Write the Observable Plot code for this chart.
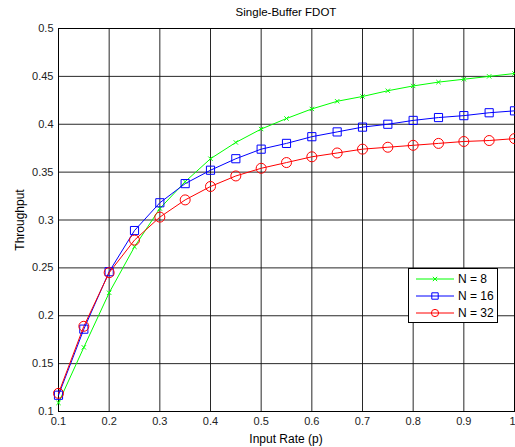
<!DOCTYPE html>
<html><head><meta charset="utf-8">
<script src="https://cdn.jsdelivr.net/npm/d3@7"></script>
<script src="https://cdn.jsdelivr.net/npm/@observablehq/plot@0.6"></script>
<style>
body{margin:0;background:#fff;}
#chart{position:relative;width:515px;height:447px;font-family:"Liberation Sans",Arial,sans-serif;color:#000;overflow:hidden;}
#chart svg{display:block;}
.lbl{position:absolute;white-space:nowrap;font-size:12px;line-height:1;}
#title{left:286px;top:13px;transform:translate(-50%,-50%);font-size:11.5px;}
#xlabel{left:286px;top:439px;transform:translate(-50%,-50%);}
#ylabel{left:20px;top:220px;transform:translate(-50%,-50%) rotate(-90deg);}
#legend{position:absolute;left:408px;top:268px;width:90px;height:55px;border:1px solid #000;background:#fff;box-sizing:border-box;}
</style></head><body>
<div id="chart"></div>
<script>
const chartTitle = "Single-Buffer FDOT";
const xLabel = "Input Rate (p)";
const yLabel = "Throughput";
const inputRate = [0.1,0.15,0.2,0.25,0.3,0.35,0.4,0.45,0.5,0.55,0.6,0.65,0.7,0.75,0.8,0.85,0.9,0.95,1.0];
const n8  = [0.109,0.167,0.224,0.272,0.312,0.340,0.364,0.381,0.395,0.406,0.416,0.424,0.429,0.435,0.440,0.444,0.447,0.450,0.453];
const n16 = [0.117,0.186,0.246,0.289,0.318,0.338,0.352,0.364,0.374,0.380,0.387,0.392,0.397,0.400,0.404,0.407,0.409,0.412,0.414];
const n32 = [0.119,0.189,0.245,0.279,0.303,0.321,0.335,0.346,0.354,0.360,0.366,0.370,0.374,0.376,0.378,0.380,0.382,0.383,0.385];
const seriesNames = ["N = 8","N = 16","N = 32"];
const seriesColors = ["#00ff00","#0000ff","#ff0000"];
const seriesSymbols = ["times","square","circle"];
const seriesValues = [n8, n16, n32];
const xTicks = [0.1,0.2,0.3,0.4,0.5,0.6,0.7,0.8,0.9,1.0];
const xTickLabels = ["0.1","0.2","0.3","0.4","0.5","0.6","0.7","0.8","0.9","1"];
const yTicks = [0.1,0.15,0.2,0.25,0.3,0.35,0.4,0.45,0.5];
const yTickLabels = ["0.1","0.15","0.2","0.25","0.3","0.35","0.4","0.45","0.5"];

const rows = [];
seriesNames.forEach((name,i)=>inputRate.forEach((x,j)=>rows.push({x, y: seriesValues[i][j], s: name})));

const symR = {"times":2.1, "square":4.6, "circle":5};
const lastX = xTicks[xTicks.length-1];
const labelOf = d => xTickLabels[xTicks.indexOf(d)];

const plot = Plot.plot({
  width:515, height:447,
  marginLeft:58, marginRight:1, marginTop:28, marginBottom:36,
  style:{fontFamily:'"Liberation Sans", Arial, sans-serif', fontSize:"11px", color:"#000", background:"#fff", overflow:"visible"},
  x:{domain:[0.1,1]},
  y:{domain:[0.1,0.5]},
  marks:[
    Plot.gridX(xTicks,{stroke:"#111", strokeOpacity:0.9}),
    Plot.gridY(yTicks,{stroke:"#111", strokeOpacity:0.9}),
    Plot.axisX(xTicks.filter(d=>d!==lastX),{tickSize:0, tickPadding:6, tickFormat:labelOf, label:null, fill:"#222"}),
    Plot.axisX([lastX],{tickSize:0, tickPadding:6, tickFormat:labelOf, label:null, fill:"#222", dx:-2}),
    Plot.axisY(yTicks,{tickSize:0, tickPadding:5, tickFormat:(d,i)=>yTickLabels[i], label:null, fill:"#222"}),
    Plot.frame({stroke:"#000", strokeWidth:1}),
    ...seriesNames.map((name,i)=>Plot.line(rows.filter(r=>r.s===name),{x:"x", y:"y", stroke:seriesColors[i], strokeWidth:1})),
    ...seriesNames.map((name,i)=>Plot.dot(rows.filter(r=>r.s===name),{x:"x", y:"y", stroke:seriesColors[i], fill:"none", symbol:seriesSymbols[i], r:symR[seriesSymbols[i]], strokeWidth:1}))
  ]
});
const chart = document.getElementById("chart");
chart.appendChild(plot);

function addLabel(id, text){const d=document.createElement("div");d.id=id;d.className="lbl";d.textContent=text;chart.appendChild(d);}
addLabel("title", chartTitle);
addLabel("xlabel", xLabel);
addLabel("ylabel", yLabel);

// legend
const leg = document.createElement("div");
leg.id = "legend";
chart.appendChild(leg);
const ls = d3.select(leg).append("svg").attr("width",88).attr("height",53)
  .style("font-family",'"Liberation Sans", Arial, sans-serif').style("font-size","12px");
seriesNames.forEach((name,i)=>{
  const cy = 10 + i*17;
  const g = ls.append("g").attr("transform",`translate(0,${cy})`);
  g.append("line").attr("x1",7).attr("x2",45).attr("y1",0).attr("y2",0).attr("stroke",seriesColors[i]).attr("stroke-width",1);
  const sym = {"times":d3.symbolTimes,"square":d3.symbolSquare,"circle":d3.symbolCircle}[seriesSymbols[i]];
  const r = seriesSymbols[i]==="times" ? 2.1 : 3.6;
  g.append("path").attr("d", d3.symbol(sym, r*r*Math.PI)()).attr("transform","translate(26,0)")
    .attr("fill","none").attr("stroke",seriesColors[i]).attr("stroke-width",1);
  g.append("text").attr("x",49).attr("y",0).attr("dy","0.35em").attr("fill","#000").text(name);
});
</script>
</body></html>
